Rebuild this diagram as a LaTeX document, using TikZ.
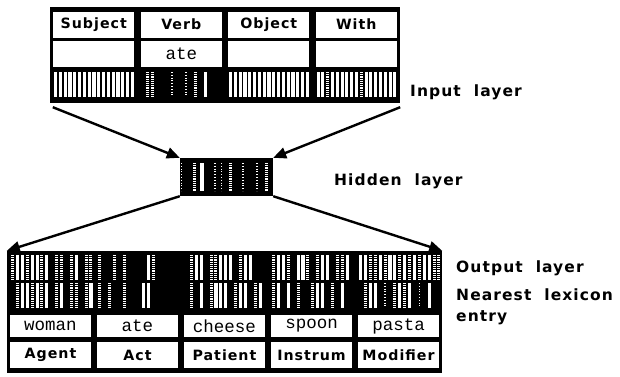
\documentclass[tikz,border=0pt]{standalone}
\usepackage{fontspec}
\setmainfont{DejaVu Sans}
\newfontfamily\cellf[LetterSpace=7]{DejaVu Sans}
\newfontfamily\lblf[LetterSpace=7]{DejaVu Sans}
\newfontfamily\monof{Liberation Mono}
\usetikzlibrary{arrows.meta}
\tikzset{
  blkbox/.style={rectangle, fill=black, draw=none, inner sep=0pt},
  hdr/.style={rectangle, fill=white, inner sep=0pt, minimum width=81pt,
    font=\fontsize{14.2}{16}\cellf\bfseries},
  wrd/.style={rectangle, fill=white, inner sep=0pt, minimum width=81pt,
    font=\fontsize{17.5}{19}\monof},
  lbl/.style={anchor=base west, inner sep=0pt, font=\fontsize{15.5}{18}\lblf\bfseries},
  conn/.style={line width=2.4pt, -{Triangle[length=13pt,width=11pt]}},
  dotbar/.style={white, line width=3pt, dash pattern=on 1.2pt off 1pt},
  faintbar/.style={white, line width=1.5pt, dash pattern=on 0.8pt off 2pt},
}
\newcommand{\stripes}[5]{%
  \foreach \t [count=\i from 0] in {#5}{%
    \pgfmathsetmacro{\bx}{#1+\i*#4+1.5}%
    \ifcase\t\relax
    \or \fill[white] (\bx-1.5,#2) rectangle ++(3.1,#3);
    \or \draw[dotbar] (\bx,#2) -- ++(0,#3);
    \or \draw[faintbar] (\bx,#2) -- ++(0,#3);
    \fi}}
\begin{document}
\begin{tikzpicture}[x=1pt,y=-1pt]
\useasboundingbox (0,0) rectangle (620,376);
% ---------- input layer ----------
\node[blkbox, minimum width=350pt, minimum height=96pt] (inbox) at (225,55) {};
\node[hdr, minimum height=26pt] (hsubj) at (93.75,24.5) {Subject};
\node[hdr, minimum height=26pt] (hverb) at (181.25,24.5) {Verb};
\node[hdr, minimum height=26pt] (hobj) at (268.75,24.5) {Object};
\node[hdr, minimum height=26pt] (hwith) at (356.25,24.5) {With};
\node[wrd, minimum height=26pt] (isubj) at (93.75,53.5) {};
\node[wrd, minimum height=26pt] (iverb) at (181.25,53.5) {ate};
\node[wrd, minimum height=26pt] (iobj) at (268.75,53.5) {};
\node[wrd, minimum height=26pt] (iwith) at (356.25,53.5) {};
\stripes{54}{72}{25}{4.8}{1,1,1,1,1,1,1,1,1,1,1,1,1,1,1,1,1}
\stripes{141.5}{72}{25}{4.8}{0,2,2,0,0,0,3,0,0,3,0,2,0,1,0,0,0}
\stripes{229}{72}{25}{4.8}{1,1,1,1,1,1,1,1,1,1,1,1,1,1,1,1,1}
\stripes{316.5}{72}{25}{4.8}{1,1,2,1,1,1,1,1,1,2,1,1,1,1,1,1,1}
% ---------- hidden layer ----------
\node[blkbox, minimum width=93pt, minimum height=38pt] (hid) at (226.5,177) {};
\draw[faintbar] (181.5,163) -- (181.5,191);
\draw[dotbar] (194.5,163) -- (194.5,191);
\fill[white] (200,163) rectangle (203.5,191);
\draw[faintbar] (215,163) -- (215,191);
\draw[faintbar] (221.5,163) -- (221.5,191);
\draw[dotbar] (230,163) -- (230,191);
\draw[faintbar] (243,163) -- (243,191);
\draw[faintbar] (257,163) -- (257,191);
\draw[dotbar] (266.5,163) -- (266.5,191);
% ---------- output layer ----------
\node[blkbox, minimum width=435pt, minimum height=122pt] (outbox) at (224.5,312) {};
\stripes{11}{255}{25}{4.9}{2,1,1,2,1,1,2,1,0,2,2,0,2,1,0,2,2}
\stripes{98}{255}{25}{4.9}{2,0,0,2,0,2,0,0,0,0,1,2,0,0,0,0,0}
\stripes{185}{255}{25}{4.9}{0,2,1,1,0,2,2,1,1,1,0,2,1,1,0,0,0}
\stripes{272}{255}{25}{4.9}{2,1,1,2,0,1,1,2,0,2,1,1,0,2,2,1,0}
\stripes{359}{255}{25}{4.9}{1,1,2,2,1,2,1,1,2,1,2,1,2,1,1,2,2}
\stripes{11}{283}{25}{4.9}{0,2,1,1,2,1,2,1,0,2,1,0,2,2,0,2,1}
\stripes{98}{283}{25}{4.9}{2,0,2,0,0,2,0,0,0,1,1,0,0,0,0,0,0}
\stripes{185}{283}{25}{4.9}{0,2,0,1,0,2,1,1,1,0,2,1,1,0,2,1,0}
\stripes{272}{283}{25}{4.9}{2,1,0,1,0,2,0,0,2,1,1,0,2,0,1,0,0}
\stripes{359}{283}{25}{4.9}{0,2,1,1,0,3,0,2,1,2,1,0,3,0,1,0,0}
\node[wrd, minimum height=22pt] (owoman) at (50.5,326) {woman};
\node[wrd, minimum height=22pt] (oate) at (137.5,326) {ate};
\node[wrd, minimum height=22pt] (ocheese) at (224.5,326) {cheese};
\node[wrd, minimum height=22pt] (ospoon) at (311.5,326) {spoon};
\node[wrd, minimum height=22pt] (opasta) at (398.5,326) {pasta};
\node[hdr, minimum height=26pt] (ragent) at (50.5,355) {Agent};
\node[hdr, minimum height=26pt] (ract) at (137.5,355) {Act};
\node[hdr, minimum height=26pt] (rpatient) at (224.5,355) {Patient};
\node[hdr, minimum height=26pt] (rinstrum) at (311.5,355) {Instrum};
\node[hdr, minimum height=26pt] (rmodifier) at (398.5,355) {Modifier};
% ---------- connectors ----------
\draw[conn] ([xshift=3pt,yshift=-4pt]inbox.south west) -- (hid.north west);
\draw[conn] ([yshift=-4pt]inbox.south east) -- (hid.north east);
\draw[conn] (hid.south west) -- (outbox.north west);
\draw[conn] (hid.south east) -- (outbox.north east);
% ---------- labels ----------
\node[lbl] (linput) at (410,96) {Input\ \ layer};
\node[lbl] (lhidden) at (334,185) {Hidden\ \ layer};
\node[lbl] (loutput) at (456,272) {Output\ \ layer};
\node[lbl] (lnear) at (456,300) {Nearest\ \ lexicon};
\node[lbl] (lentry) at (456,321) {entry};
\end{tikzpicture}
\end{document}
